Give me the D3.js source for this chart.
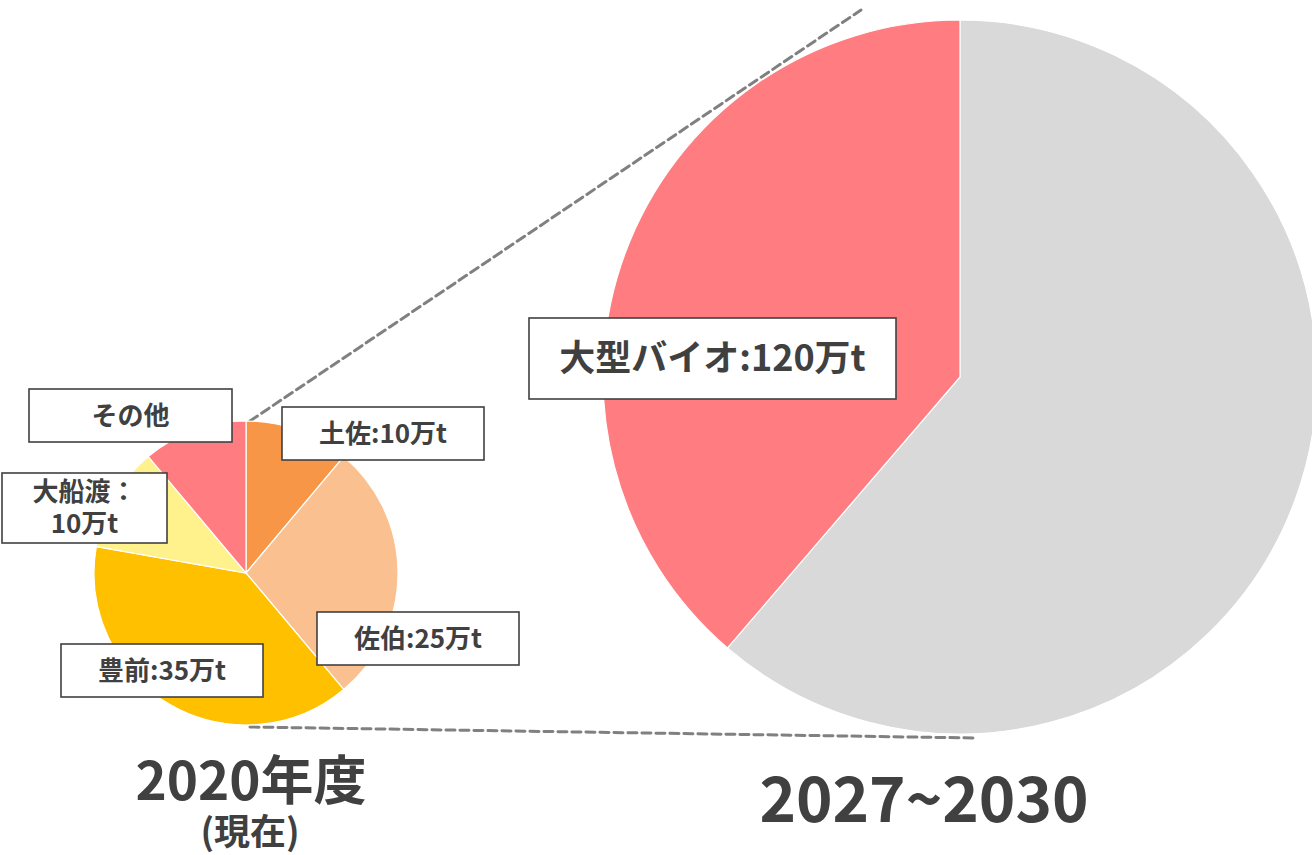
<!DOCTYPE html>
<html><head><meta charset="utf-8">
<script src="https://cdn.jsdelivr.net/npm/d3@7"></script>
<style>
html,body{margin:0;padding:0;background:#fff;}
svg{display:block;font-family:"Noto Sans CJK JP","Noto Sans",sans-serif;}
</style></head>
<body>
<svg id="chart" width="1312" height="855"></svg>
<script>
// ---- data ----
const currentNames  = ["土佐", "佐伯", "豊前", "大船渡", "その他"];
const currentValues = [10, 25, 35, 10, 10];
const currentLabels = ["土佐:10万t", "佐伯:25万t", "豊前:35万t", "大船渡：\n10万t", "その他"];
const currentColors = ["#F79646", "#FAC090", "#FFC000", "#FFF18C", "#FF7C80"];

const futureNames  = ["既存", "大型バイオ"];
const futureValues = [190, 120];
const futureLabels = [null, "大型バイオ:120万t"];
const futureColors = ["#D9D9D9", "#FF7C80"];

const titleCurrent = ["2020年度", "(現在)"];
const titleFuture  = "2027~2030";

// ---- layout ----
const svg = d3.select("#chart");
const textColor = "#404040";

const small = {cx: 246, cy: 573, r: 152};
const big   = {cx: 960, cy: 377, r: 357};

// connector dashed lines (drawn first, beneath)
const connectors = [
  [[small.cx + 4, small.cy - small.r], [861, 10]],
  [[small.cx + 4, small.cy + small.r + 2], [976, 738]]
];
svg.selectAll("line.conn").data(connectors).join("line")
  .attr("class", "conn")
  .attr("x1", d => d[0][0]).attr("y1", d => d[0][1])
  .attr("x2", d => d[1][0]).attr("y2", d => d[1][1])
  .attr("stroke", "#808080").attr("stroke-width", 3)
  .attr("stroke-dasharray", "9,5").attr("stroke-linecap", "round");

const pie = d3.pie().sort(null).value(d => d);

function drawPie(values, colors, g) {
  const arc = d3.arc().innerRadius(0).outerRadius(g.r);
  const grp = svg.append("g").attr("transform", `translate(${g.cx},${g.cy})`);
  grp.selectAll("path").data(pie(values)).join("path")
    .attr("d", arc)
    .attr("fill", (d, i) => colors[i])
    .attr("stroke", "#fff").attr("stroke-width", 1.2);
}
drawPie(futureValues, futureColors, big);
drawPie(currentValues, currentColors, small);

// label boxes
const smallBoxes = [
  {x: 282, y: 407, w: 202, h: 53},
  {x: 317, y: 612, w: 202, h: 53},
  {x: 61,  y: 644, w: 202, h: 53},
  {x: 2,   y: 473, w: 165, h: 70},
  {x: 29,  y: 389, w: 203, h: 53}
];
const bigBoxes = [null, {x: 529, y: 318, w: 367, h: 81}];

function drawLabels(labels, boxes, fontSize, lh) {
  labels.forEach((lab, i) => {
    const b = boxes[i];
    if (!lab || !b) return;
    svg.append("rect")
      .attr("x", b.x).attr("y", b.y).attr("width", b.w).attr("height", b.h)
      .attr("fill", "#fff").attr("stroke", textColor).attr("stroke-width", 1.6);
    const lines = lab.split("\n");
    lines.forEach((ln, k) => {
      svg.append("text")
        .attr("text-anchor", "middle")
        .attr("font-size", fontSize).attr("font-weight", 700)
        .attr("fill", textColor)
        .attr("x", b.x + b.w / 2)
        .attr("y", b.y + b.h / 2 + (k - (lines.length - 1) / 2) * lh)
        .attr("dy", "0.36em")
        .text(ln);
    });
  });
}
drawLabels(currentLabels, smallBoxes, 26, 32);
drawLabels(futureLabels, bigBoxes, 36, 42);

// titles
svg.append("text")
  .attr("x", 251).attr("y", 800).attr("text-anchor", "middle")
  .attr("font-size", 53).attr("font-weight", 700).attr("fill", textColor)
  .text(titleCurrent[0]);
svg.append("text")
  .attr("x", 250).attr("y", 845).attr("text-anchor", "middle")
  .attr("font-size", 36).attr("font-weight", 700).attr("fill", textColor)
  .text(titleCurrent[1]);
svg.append("text")
  .attr("x", 924).attr("y", 822).attr("text-anchor", "middle")
  .attr("font-size", 62).attr("font-weight", 700).attr("fill", textColor)
  .text(titleFuture);
</script>
</body></html>
